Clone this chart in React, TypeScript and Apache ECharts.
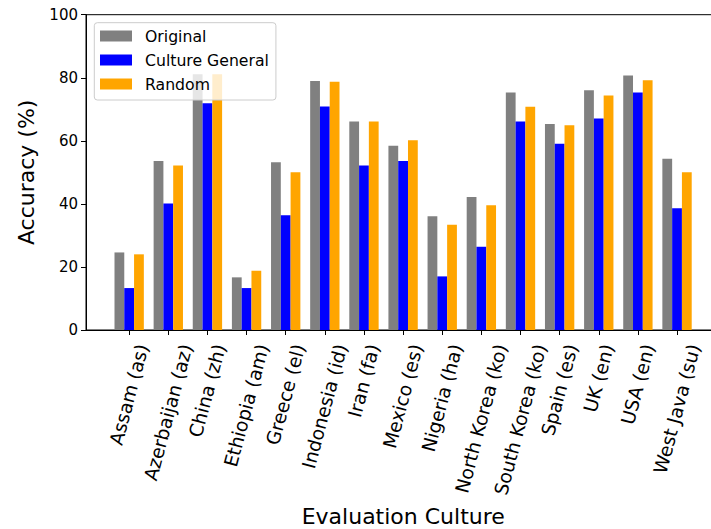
import React, { useEffect, useRef } from "react";
import * as echarts from "echarts";

const categories = [
  "Assam (as)",
  "Azerbaijan (az)",
  "China (zh)",
  "Ethiopia (am)",
  "Greece (el)",
  "Indonesia (id)",
  "Iran (fa)",
  "Mexico (es)",
  "Nigeria (ha)",
  "North Korea (ko)",
  "South Korea (ko)",
  "Spain (es)",
  "UK (en)",
  "USA (en)",
  "West Java (su)",
];
const original = [24.6, 53.6, 81.1, 16.7, 53.2, 79.0, 66.1, 58.4, 36.1, 42.2, 75.3, 65.3, 76.0, 80.7, 54.3];
const cultureGeneral = [13.3, 40.1, 71.9, 13.3, 36.4, 70.9, 52.2, 53.6, 17.0, 26.4, 66.1, 59.1, 67.1, 75.3, 38.6];
const randomVals = [24.0, 52.2, 81.1, 18.8, 50.0, 78.7, 66.1, 60.2, 33.4, 39.6, 70.8, 64.9, 74.4, 79.2, 50.0];
const seriesNames = ["Original", "Culture General", "Random"];
const seriesColors = ["#808080", "#0000ff", "#ffa500"];
const yMin = 0;
const yMax = 100;
const yInterval = 20;

const FONT = '"DejaVu Sans", sans-serif';
const XLABEL_SIZE = 18.7;

function measure(text: string, size: number): number {
  const ctx = document.createElement("canvas").getContext("2d");
  if (!ctx) return text.length * size * 0.55;
  ctx.font = `${size}px ${FONT}`;
  return ctx.measureText(text).width;
}

export default function App() {
  const ref = useRef<HTMLDivElement>(null);
  useEffect(() => {
    if (!ref.current) return;
    const chart = echarts.init(ref.current, null, { renderer: "svg" });
    const values = [original, cultureGeneral, randomVals];
    chart.setOption({
      animation: false,
      backgroundColor: "#ffffff",
      textStyle: { fontFamily: FONT },
      grid: [
        {
          left: 86,
          right: -9.5,
          top: 14.7,
          bottom: 199,
          show: true,
          borderColor: "#000",
          borderWidth: 1,
          backgroundColor: "transparent",
          outerBoundsMode: "none",
        },
        {
          left: 109.6,
          right: 14.4,
          top: 14.7,
          bottom: 199,
          outerBoundsMode: "none",
        },
      ],
      xAxis: [
        {
          gridIndex: 0,
          type: "value",
          min: 0,
          max: 1,
          axisLine: { show: true, lineStyle: { color: "#000", width: 1 } },
          axisTick: { show: false },
          axisLabel: { show: false },
          splitLine: { show: false },
          name: "Evaluation Culture",
          nameLocation: "middle",
          nameGap: 175,
          nameTextStyle: { fontSize: 22, color: "#000", fontFamily: FONT },
        },
        {
          gridIndex: 1,
          type: "category",
          data: categories,
          boundaryGap: true,
          axisLine: { show: false },
          axisTick: {
            show: true,
            alignWithLabel: true,
            length: 5,
            lineStyle: { color: "#000", width: 1 },
          },
          axisLabel: { show: false, interval: 0 },
          splitLine: { show: false },
        },
      ],
      yAxis: [
        {
          gridIndex: 0,
          type: "value",
          min: yMin,
          max: yMax,
          interval: yInterval,
          axisLine: { show: true, lineStyle: { color: "#000", width: 1 } },
          axisTick: { show: true, length: 5, lineStyle: { color: "#000", width: 1 } },
          axisLabel: { fontSize: 15, color: "#000", margin: 8, fontFamily: FONT },
          splitLine: { show: false },
          name: "Accuracy (%)",
          nameLocation: "middle",
          nameGap: 49,
          nameTextStyle: { fontSize: 22, color: "#000", fontFamily: FONT },
        },
        {
          gridIndex: 1,
          type: "value",
          min: yMin,
          max: yMax,
          show: false,
        },
      ],
      legend: {
        orient: "vertical",
        left: 94.3,
        top: 22.7,
        data: seriesNames,
        icon: "rect",
        itemWidth: 32,
        itemHeight: 11,
        itemGap: 6,
        padding: [4.3, 7, 7, 5.7],
        backgroundColor: "rgba(255,255,255,0.8)",
        borderColor: "#cccccc",
        borderWidth: 1,
        borderRadius: 3,
        textStyle: {
          fontSize: 15.7,
          color: "#000",
          lineHeight: 18,
          padding: [0, 0, 0, 8],
          fontFamily: FONT,
        },
      },
      series: seriesNames.map((name, i) => ({
        name,
        type: "bar",
        xAxisIndex: 1,
        yAxisIndex: 1,
        data: values[i],
        barGap: "0%",
        barCategoryGap: "25%",
        itemStyle: { color: seriesColors[i] },
      })),
    });

    // Rotated category labels, placed matplotlib-style (bbox centred under tick)
    const rad = (75 * Math.PI) / 180;
    const axisY = chart.convertToPixel({ yAxisIndex: 1 }, 0) as number;
    const labels = categories.map((c) => {
      const px = chart.convertToPixel({ xAxisIndex: 1 }, c) as number;
      const L = measure(c, XLABEL_SIZE);
      const H = L * Math.sin(rad) + XLABEL_SIZE * Math.cos(rad);
      return {
        type: "text",
        x: px,
        y: axisY + 12 + H / 2,
        rotation: rad,
        silent: true,
        style: {
          text: c,
          align: "center",
          verticalAlign: "middle",
          fontSize: XLABEL_SIZE,
          fontFamily: FONT,
          fill: "#000",
        },
      };
    });
    chart.setOption({ graphic: { elements: labels } });
    return () => chart.dispose();
  }, []);
  return (
    <div
      ref={ref}
      style={{ position: "fixed", left: 0, top: 0, width: 711, height: 529 }}
    />
  );
}
